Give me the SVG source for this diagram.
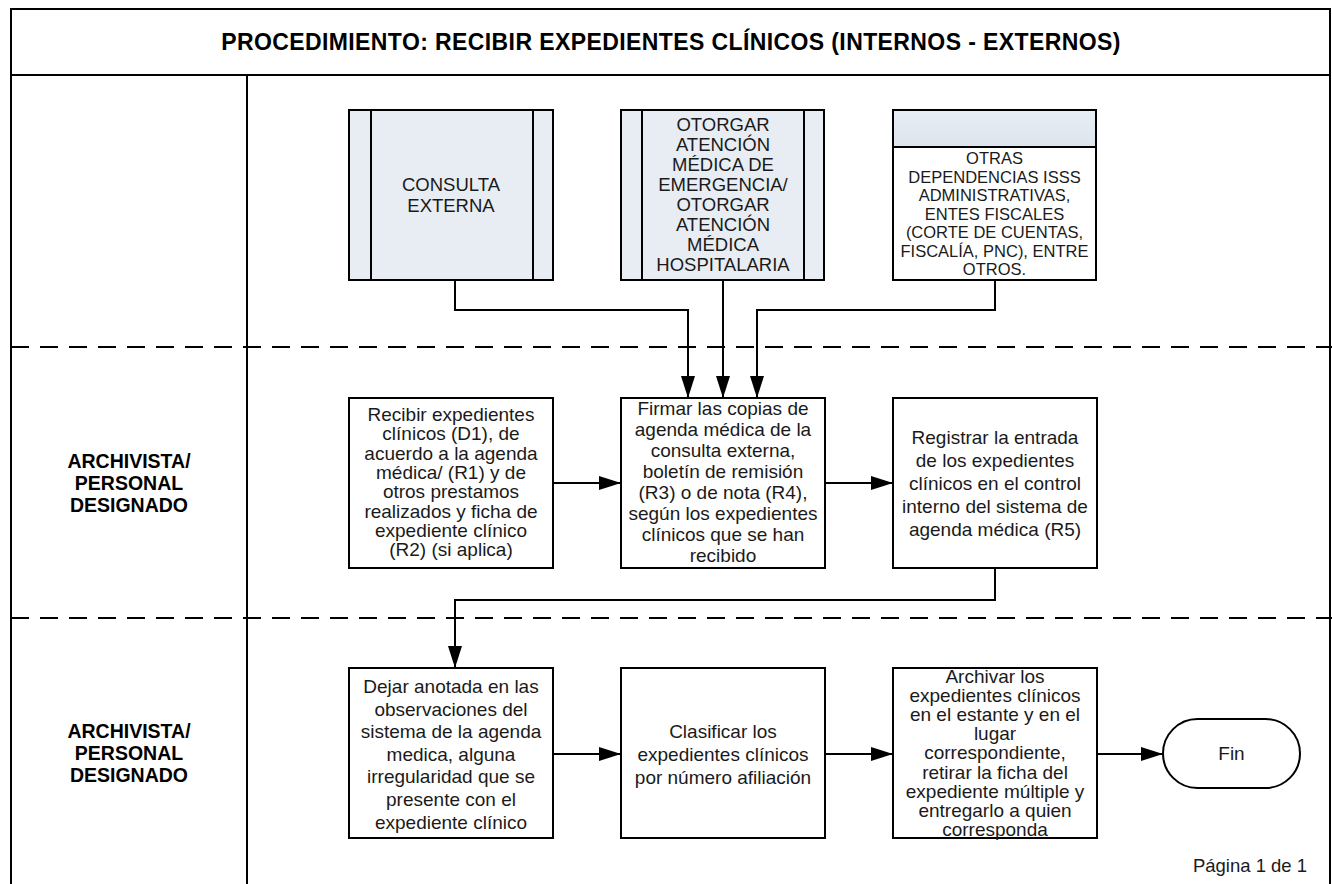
<svg xmlns="http://www.w3.org/2000/svg" width="1332" height="884" viewBox="0 0 1332 884">
<defs>
<marker id="arr" markerUnits="userSpaceOnUse" markerWidth="22" markerHeight="14" refX="22" refY="7" orient="auto">
<path d="M0,0 L22,7 L0,14 Z" fill="#000"/>
</marker>
<linearGradient id="hdr" x1="0" y1="0" x2="0" y2="1">
<stop offset="0" stop-color="#e9eef4"/>
<stop offset="1" stop-color="#dce4ed"/>
</linearGradient>
</defs>
<style>
.frame{fill:none;stroke:#000;stroke-width:2}
.dash{fill:none;stroke:#000;stroke-width:2;stroke-dasharray:18 11}
.box{fill:#fff;stroke:#000;stroke-width:2}
.sub{fill:#e8edf3;stroke:#000;stroke-width:2}
.bar{stroke:#000;stroke-width:2}
.t{font-family:"Liberation Sans",Arial,sans-serif;font-size:19px;fill:#1a1a1a;text-anchor:middle}
.ts{font-family:"Liberation Sans",Arial,sans-serif;font-size:18.5px;fill:#1a1a1a;text-anchor:middle}
.tx{font-family:"Liberation Sans",Arial,sans-serif;font-size:16.5px;fill:#1a1a1a;text-anchor:middle}
.title{font-family:"Liberation Sans",Arial,sans-serif;font-size:23px;font-weight:bold;fill:#000;text-anchor:middle;letter-spacing:0.4px}
.lane{font-family:"Liberation Sans",Arial,sans-serif;font-size:19.5px;font-weight:bold;fill:#000;text-anchor:middle}
.c{fill:none;stroke:#000;stroke-width:2}
</style>
<rect width="1332" height="884" fill="#fff"/>
<g id="frame">
<path class="frame" d="M11,884 V9 H1330 V884"/>
<line class="frame" x1="11" y1="75" x2="1330" y2="75"/>
<line class="frame" x1="247" y1="75" x2="247" y2="884"/>
<line class="dash" x1="11" y1="347" x2="1332" y2="347"/>
<line class="dash" x1="11" y1="618" x2="1332" y2="618"/>
<text class="title" x="671" y="50">PROCEDIMIENTO: RECIBIR EXPEDIENTES CLÍNICOS (INTERNOS - EXTERNOS)</text>
<text class="lane"><tspan x="129" y="468">ARCHIVISTA/</tspan><tspan x="129" y="490">PERSONAL</tspan><tspan x="129" y="512">DESIGNADO</tspan></text>
<text class="lane"><tspan x="129" y="738">ARCHIVISTA/</tspan><tspan x="129" y="760">PERSONAL</tspan><tspan x="129" y="782">DESIGNADO</tspan></text>
<text class="ts" x="1250" y="872">Página 1 de 1</text>
</g>
<g id="connectors">
<path class="c" d="M455,280 V310 H688 V398" marker-end="url(#arr)"/>
<path class="c" d="M723,280 V398" marker-end="url(#arr)"/>
<path class="c" d="M995,280 V310 H757 V398" marker-end="url(#arr)"/>
<path class="c" d="M553,483 H621" marker-end="url(#arr)"/>
<path class="c" d="M825,483 H893" marker-end="url(#arr)"/>
<path class="c" d="M995,568 V600 H455 V668" marker-end="url(#arr)"/>
<path class="c" d="M553,754 H621" marker-end="url(#arr)"/>
<path class="c" d="M825,754 H893" marker-end="url(#arr)"/>
<path class="c" d="M1097,754 H1163" marker-end="url(#arr)"/>
</g>
<g id="consulta-externa">
<rect class="sub" x="349" y="110" width="204" height="170"/>
<line class="bar" x1="371" y1="110" x2="371" y2="280"/>
<line class="bar" x1="533" y1="110" x2="533" y2="280"/>
<text class="ts"><tspan x="451" y="191">CONSULTA</tspan><tspan x="451" y="212">EXTERNA</tspan></text>
</g>
<g id="atencion-medica">
<rect class="sub" x="621" y="110" width="203" height="170"/>
<line class="bar" x1="642" y1="110" x2="642" y2="280"/>
<line class="bar" x1="804" y1="110" x2="804" y2="280"/>
<text class="ts"><tspan x="723" y="131">OTORGAR</tspan><tspan x="723" y="151">ATENCIÓN</tspan><tspan x="723" y="171">MÉDICA DE</tspan><tspan x="723" y="191">EMERGENCIA/</tspan><tspan x="723" y="211">OTORGAR</tspan><tspan x="723" y="231">ATENCIÓN</tspan><tspan x="723" y="251">MÉDICA</tspan><tspan x="723" y="271">HOSPITALARIA</tspan></text>
</g>
<g id="otras-dependencias">
<rect class="box" x="893" y="110" width="203" height="170"/>
<rect x="893" y="110" width="203" height="37" fill="url(#hdr)" stroke="#000" stroke-width="2"/>
<text class="tx"><tspan x="994.5" y="164">OTRAS</tspan><tspan x="994.5" y="182.5">DEPENDENCIAS ISSS</tspan><tspan x="994.5" y="201">ADMINISTRATIVAS,</tspan><tspan x="994.5" y="219.5">ENTES FISCALES</tspan><tspan x="994.5" y="238">(CORTE DE CUENTAS,</tspan><tspan x="994.5" y="256.5">FISCALÍA, PNC), ENTRE</tspan><tspan x="994.5" y="275">OTROS.</tspan></text>
</g>
<g id="recibir">
<rect class="box" x="349" y="398" width="204" height="170"/>
<text class="t"><tspan x="451" y="421">Recibir expedientes</tspan><tspan x="451" y="440.3">clínicos (D1), de</tspan><tspan x="451" y="459.6">acuerdo a la agenda</tspan><tspan x="451" y="478.9">médica/ (R1) y de</tspan><tspan x="451" y="498.2">otros prestamos</tspan><tspan x="451" y="517.5">realizados y ficha de</tspan><tspan x="451" y="536.8">expediente clínico</tspan><tspan x="451" y="556.1">(R2)  (si aplica)</tspan></text>
</g>
<g id="firmar">
<rect class="box" x="621" y="398" width="204" height="170"/>
<text class="t"><tspan x="723" y="415">Firmar las copias de</tspan><tspan x="723" y="436">agenda médica de la</tspan><tspan x="723" y="457">consulta externa,</tspan><tspan x="723" y="478">boletín de remisión</tspan><tspan x="723" y="499">(R3) o de nota (R4),</tspan><tspan x="723" y="520">según los expedientes</tspan><tspan x="723" y="541">clínicos que se han</tspan><tspan x="723" y="562">recibido</tspan></text>
</g>
<g id="registrar">
<rect class="box" x="893" y="398" width="204" height="170"/>
<text class="t"><tspan x="995" y="444">Registrar la entrada</tspan><tspan x="995" y="467">de los expedientes</tspan><tspan x="995" y="490">clínicos en el control</tspan><tspan x="995" y="513">interno del sistema de</tspan><tspan x="995" y="536">agenda médica (R5)</tspan></text>
</g>
<g id="dejar">
<rect class="box" x="349" y="668" width="204" height="170"/>
<text class="t"><tspan x="451" y="693">Dejar anotada en las</tspan><tspan x="451" y="715.6">observaciones del</tspan><tspan x="451" y="738.2">sistema de la agenda</tspan><tspan x="451" y="760.8">medica, alguna</tspan><tspan x="451" y="783.4">irregularidad que se</tspan><tspan x="451" y="806">presente con el</tspan><tspan x="451" y="828.6">expediente clínico</tspan></text>
</g>
<g id="clasificar">
<rect class="box" x="621" y="668" width="204" height="170"/>
<text class="t"><tspan x="723" y="738">Clasificar los</tspan><tspan x="723" y="761">expedientes clínicos</tspan><tspan x="723" y="784">por número afiliación</tspan></text>
</g>
<g id="archivar">
<rect class="box" x="893" y="668" width="204" height="170"/>
<text class="t"><tspan x="995" y="683">Archivar los</tspan><tspan x="995" y="702.1">expedientes clínicos</tspan><tspan x="995" y="721.2">en el estante y en el</tspan><tspan x="995" y="740.3">lugar</tspan><tspan x="995" y="759.4">correspondiente,</tspan><tspan x="995" y="778.5">retirar la ficha del</tspan><tspan x="995" y="797.6">expediente múltiple y</tspan><tspan x="995" y="816.7">entregarlo a quien</tspan><tspan x="995" y="835.8">corresponda</tspan></text>
</g>
<g id="fin">
<rect class="box" x="1163" y="719" width="137" height="69" rx="34.5" ry="34.5"/>
<text class="t" x="1231.5" y="760">Fin</text>
</g>
</svg>
